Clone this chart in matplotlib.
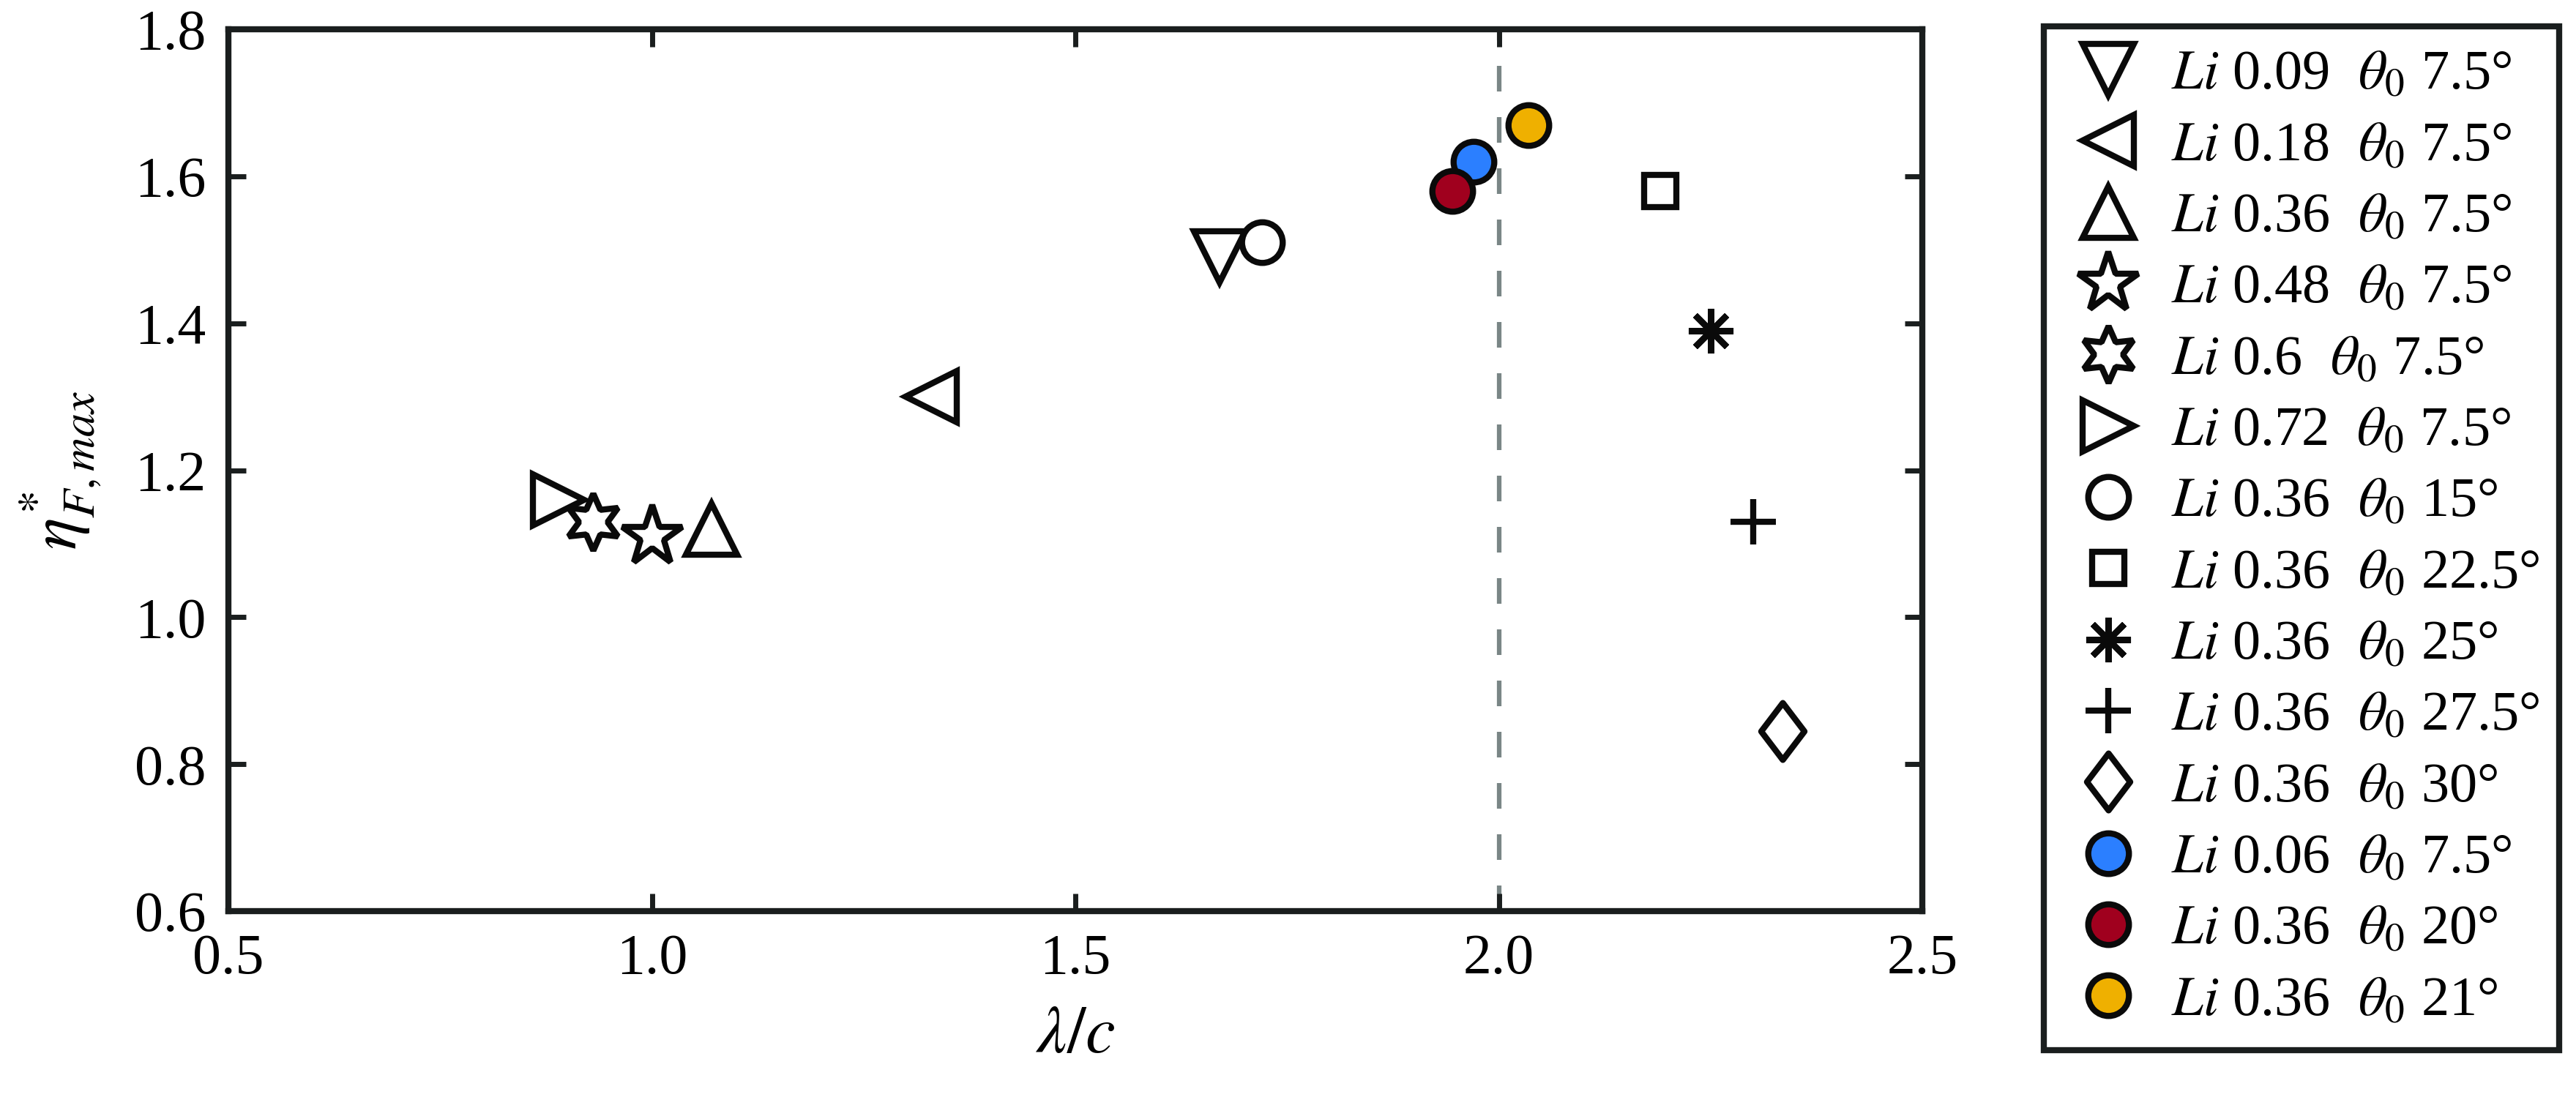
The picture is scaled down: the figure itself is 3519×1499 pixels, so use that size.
import matplotlib
matplotlib.use("Agg")
import matplotlib.pyplot as plt
from matplotlib.path import Path
import numpy as np

plt.rcParams['font.family'] = ['Liberation Serif', 'DejaVu Serif']
plt.rcParams['mathtext.fontset'] = 'stix'

# Data
li_vals = ['0.09', '0.18', '0.36', '0.48', '0.6', '0.72', '0.36', '0.36', '0.36', '0.36', '0.36', '0.06', '0.36', '0.36']
theta_vals = ['7.5', '7.5', '7.5', '7.5', '7.5', '7.5', '15', '22.5', '25', '27.5', '30', '7.5', '20', '21']
x_vals = [1.67, 1.33, 1.07, 1.00, 0.93, 0.89, 1.72, 2.19, 2.25, 2.30, 2.335, 1.97, 1.945, 2.035]
y_vals = [1.49, 1.30, 1.12, 1.11, 1.13, 1.16, 1.51, 1.58, 1.39, 1.13, 0.845, 1.62, 1.58, 1.67]
xticks = [0.5, 1.0, 1.5, 2.0, 2.5]
yticks = [0.6, 0.8, 1.0, 1.2, 1.4, 1.6, 1.8]
ref_x = 2.0

diamond = Path([(0, 1), (0.76, 0), (0, -1), (-0.76, 0), (0, 1)],
               [Path.MOVETO, Path.LINETO, Path.LINETO, Path.LINETO, Path.CLOSEPOLY])
markers = ['v', '<', '^', '*', (6, 1, 0), '>', 'o', 's', (8, 2, 0), '+', diamond, 'o', 'o', 'o']
faces = ['white'] * 11 + ['#2b7fff', '#a0001e', '#efb000']
sizes = [50, 50, 50, 62, 56, 50, 40, 31, 44, 44, 56, 40, 40, 40]

fig = plt.figure(figsize=(35.19, 14.99), dpi=100)
ax = fig.add_axes([0.0887, 0.1694, 0.6576, 0.8039])

ax.axvline(ref_x, color='#7a8686', lw=4.5, ls=(0, (5.6, 5.6)), zorder=1)

edge = '#0a0a0a'
for i in range(len(x_vals)):
    lbl = r'$\mathit{Li}$ ' + li_vals[i] + r'  $\theta_0$ ' + theta_vals[i] + '°'
    ax.plot([x_vals[i]], [y_vals[i]], ls='none', marker=markers[i], ms=sizes[i],
            mfc=faces[i], mec=edge, mew=6, label=lbl, zorder=3)

ax.set_xlim(0.5, 2.5)
ax.set_ylim(0.6, 1.8)
ax.set_xticks(xticks)
ax.set_yticks(yticks)
ax.set_xticklabels([f'{v:.1f}' for v in xticks])
ax.set_yticklabels([f'{v:.1f}' for v in yticks])
ax.tick_params(direction='in', length=17, width=5, labelsize=56, color='#1a1e1e',
               top=True, right=True, pad=22)
for s in ax.spines.values():
    s.set_linewidth(6)
    s.set_color('#1a1e1e')

ax.set_xlabel(r'$\lambda/c$', fontsize=66, labelpad=20)
ax.set_ylabel(r'$\eta^{*}_{F,max}$', fontsize=66, labelpad=30)

leg = fig.legend(loc='upper left', bbox_to_anchor=(0.7935, 0.0167, 0.2, 0.9593),
                 mode='expand', borderaxespad=0, fontsize=55, frameon=True, fancybox=False,
                 framealpha=1, edgecolor='#1a1e1e', borderpad=0.42, labelspacing=0.365,
                 handletextpad=0.41, handlelength=1.45, markerscale=1.0)
leg.get_frame().set_linewidth(6)

fig.savefig('out.png', dpi=100, facecolor='white')
